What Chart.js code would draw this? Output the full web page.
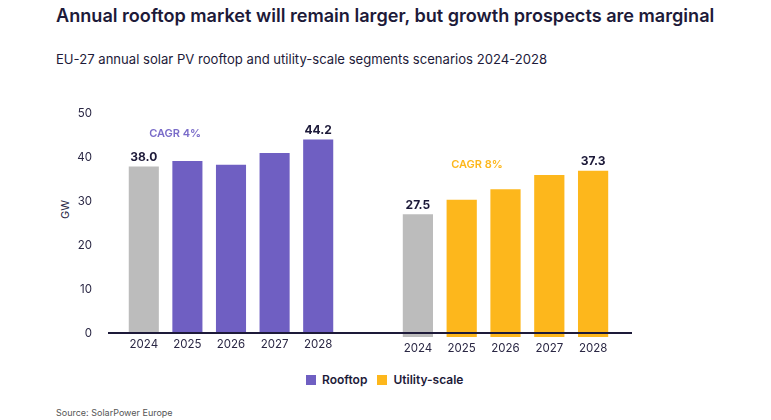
<!DOCTYPE html>
<html>
<head>
<meta charset="utf-8">
<script src="https://cdn.jsdelivr.net/npm/chart.js@4"></script>
<style>
  html, body { margin: 0; padding: 0; background: #ffffff; }
  body { width: 771px; height: 420px; position: relative; overflow: hidden; font-family: Inter, "Noto Sans", sans-serif; color: #1d1a39; }
  #title { position: absolute; left: 56px; top: 3px; font-size: 18.1px; font-weight: 600; line-height: 24px; white-space: nowrap; letter-spacing: 0; }
  #subtitle { position: absolute; left: 56px; top: 50px; font-size: 13.1px; font-weight: 400; line-height: 18px; white-space: nowrap; }
  #gw { position: absolute; left: 58px; top: 205px; width: 14px; height: 14px; font-size: 11px; line-height: 14px; text-align: center; transform: rotate(-90deg); color: #2a2744; }
  #baseline { position: absolute; left: 108px; top: 332px; width: 524px; height: 1.6px; background: #1d1a39; z-index: 5; }
  #c1wrap { position: absolute; left: 0; top: 0; width: 360px; height: 370px; }
  #c2wrap { position: absolute; left: 380px; top: 0; width: 250px; height: 370px; }
  #legend { position: absolute; left: 306px; top: 372px; font-size: 12px; font-weight: 600; line-height: 16px; white-space: nowrap; display: flex; align-items: center; }
  #legend .sw { display: inline-block; width: 10px; height: 10px; margin-right: 6px; }
  #legend .it { display: flex; align-items: center; margin-right: 10px; }
  #source { position: absolute; left: 56px; top: 406px; font-size: 9px; line-height: 14px; color: #555555; white-space: nowrap; }
</style>
</head>
<body>
<div id="title">Annual rooftop market will remain larger, but growth prospects are marginal</div>
<div id="subtitle">EU-27 annual solar PV rooftop and utility-scale segments scenarios 2024-2028</div>
<div id="gw">GW</div>
<div id="c1wrap"><canvas id="c1"></canvas></div>
<div id="c2wrap"><canvas id="c2"></canvas></div>
<div id="baseline"></div>
<div id="legend">
  <span class="it"><span class="sw" style="background:#6f5fc2"></span>Rooftop</span>
  <span class="it"><span class="sw" style="background:#fdb71c"></span>Utility-scale</span>
</div>
<div id="source">Source: SolarPower Europe</div>
<script>
// ---- data ----
const years = ['2024', '2025', '2026', '2027', '2028'];
const rooftop = [38.0, 39.3, 38.4, 41.1, 44.2];
const utility = [27.5, 30.8, 33.1, 36.3, 37.3];
const labelledIdx = [0, 4];
const cagrText = ['CAGR 4%', 'CAGR 8%'];
const yTicks = [0, 10, 20, 30, 40, 50];

const GREY = '#bcbcbc', PURPLE = '#6f5fc2', YELLOW = '#fdb71c', INK = '#1d1a39';

function colours(main) { return years.map((y, i) => i === 0 ? GREY : main); }

const valueLabels = {
  id: 'valueLabels',
  afterDatasetsDraw(chart, args, opts) {
    const ctx = chart.ctx;
    const meta = chart.getDatasetMeta(0);
    const data = chart.data.datasets[0].data;
    ctx.save();
    ctx.font = '700 12px Inter, "Noto Sans", sans-serif';
    ctx.fillStyle = INK;
    ctx.textAlign = 'center';
    ctx.textBaseline = 'middle';
    labelledIdx.forEach(i => {
      const el = meta.data[i];
      ctx.fillText(data[i].toFixed(1), el.x, el.y - 9);
    });
    const xs = chart.scales.x, ys = chart.scales.y;
    ctx.font = '600 11px Inter, "Noto Sans", sans-serif';
    ctx.fillStyle = opts.color;
    ctx.fillText(opts.text, xs.getPixelForValue(opts.xv), ys.getPixelForValue(opts.yv));
    ctx.restore();
  }
};

function makeChart(id, values, main, showY, pad, cagr) {
  const yScale = {
    display: showY, min: 0, max: 50,
    afterBuildTicks: s => { s.ticks = yTicks.map(v => ({ value: v })); },
    grid: { display: false, drawTicks: false }, border: { display: false },
    ticks: { color: '#2a2744', font: { family: 'Inter, "Noto Sans", sans-serif', size: 11.5 }, padding: 30 }
  };
  if (showY) yScale.afterFit = s => { s.width = 122; };
  return new Chart(document.getElementById(id), {
    type: 'bar',
    data: {
      labels: years,
      datasets: [{ data: values, backgroundColor: colours(main), borderWidth: 0,
                   categoryPercentage: 1, barPercentage: 0.69 }]
    },
    options: {
      responsive: true, maintainAspectRatio: false, animation: false,
      devicePixelRatio: 1,
      layout: { padding: pad },
      plugins: { legend: { display: false }, tooltip: { enabled: false }, valueLabels: cagr },
      scales: {
        x: {
          afterFit: s => { s.height = 20; },
          grid: { display: false, drawTicks: false }, border: { display: false },
          ticks: { color: '#2a2744', font: { family: 'Inter, "Noto Sans", sans-serif', size: 11.5 }, padding: 5, maxRotation: 0, autoSkip: false }
        },
        y: yScale
      }
    },
    plugins: [valueLabels]
  });
}

makeChart('c1', rooftop, PURPLE, true, { left: 0, right: 20, top: 114, bottom: 13 },
  { text: cagrText[0], color: '#7a6cc9', xv: 0.72, yv: 45.5 });
makeChart('c2', utility, YELLOW, false, { left: 16, right: 15, top: 114, bottom: 13 },
  { text: cagrText[1], color: '#fdb71c', xv: 1.35, yv: 38.6 });
</script>
</body>
</html>
